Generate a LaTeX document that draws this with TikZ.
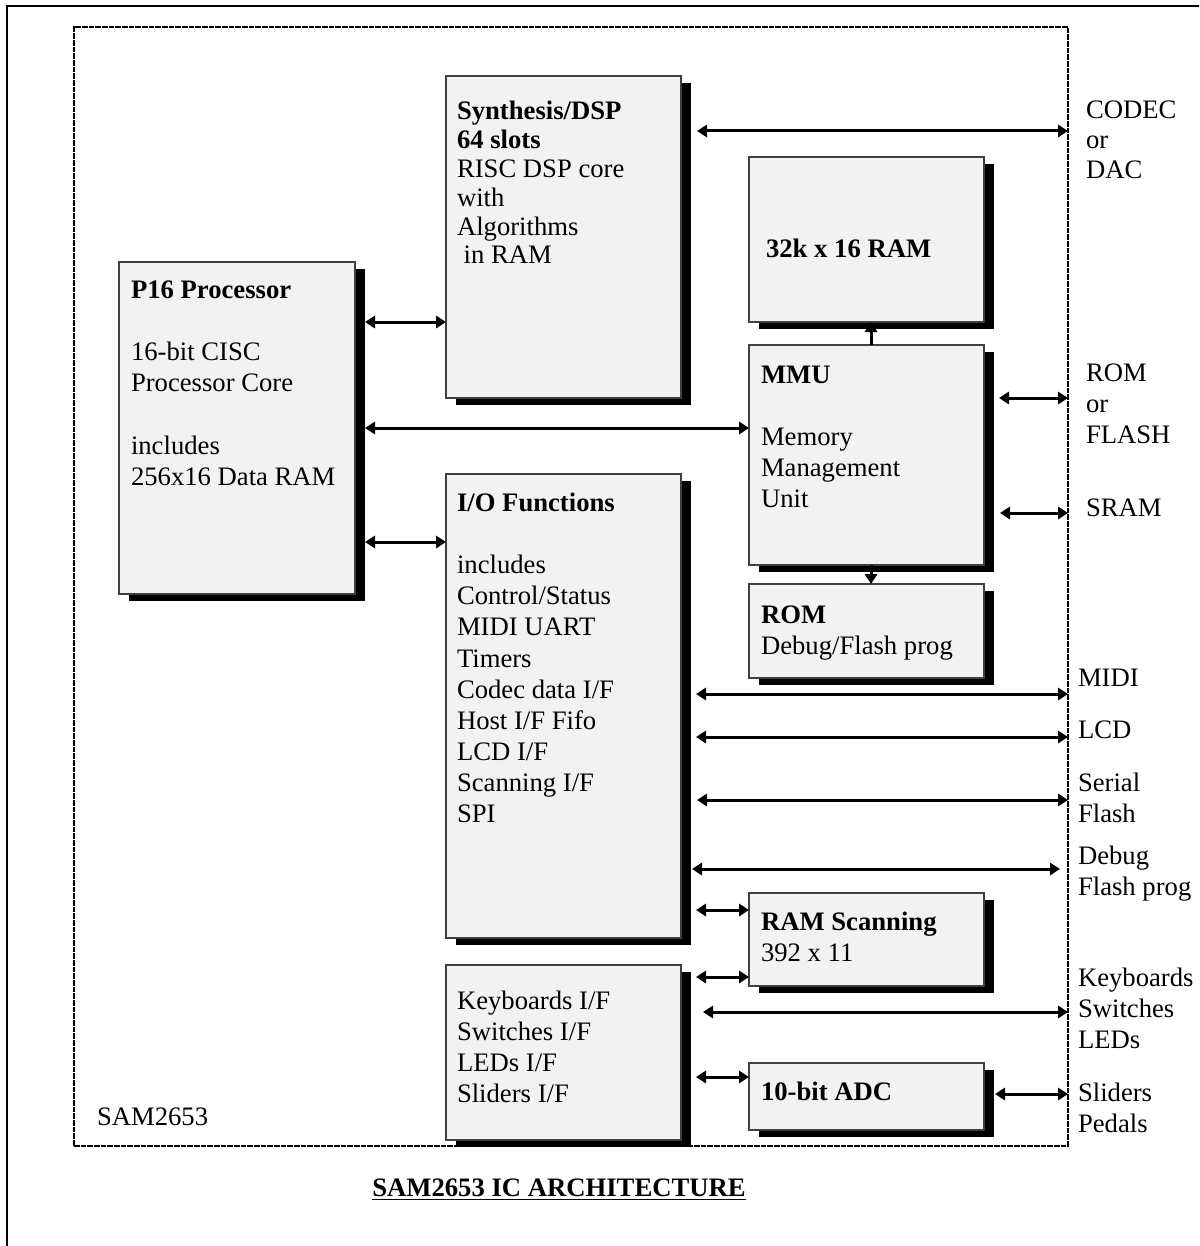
\documentclass[tikz,border=0pt]{standalone}
\usepackage{fontspec}
\setmainfont{Liberation Serif}
\usetikzlibrary{arrows.meta}
\usetikzlibrary{fit}
\usetikzlibrary{calc}

\begin{document}
\begin{tikzpicture}[x=0.45pt,y=-0.45pt,inner sep=0pt,outer sep=0pt,
font=\fontsize{12}{14}\selectfont,
unitblock/.style={draw=black!75,fill=black!5,line width=0.5pt,inner sep=0pt,
  preaction={fill=black,transform canvas={xshift=4.5pt,yshift=-3.15pt}}},
chipframe/.style={draw,dash pattern=on 2.5pt off 0.5pt,line width=0.9pt,inner sep=0pt},
blocktext/.style={anchor=north west,align=left},
pinlabel/.style={anchor=north west,align=left},
bus/.style={{Triangle[length=4.5pt,width=5.5pt]}-{Triangle[length=4.5pt,width=5.5pt]},line width=1.35pt},
feed/.style={-{Triangle[length=4.5pt,width=5.5pt]},line width=1.35pt}]

\clip (0,0) rectangle (1199,1246);
\draw[line width=1.3pt] (7,1260) -- (7,6) -- (1220,6);

% chip boundary
\node[chipframe,fit={(74,27) (1068,1146)}] (chip) {};
\node[anchor=west] (chipname) at (97,1117) {SAM2653};

% blocks
\node[unitblock,fit={(119,262) (355,594)}] (p16) {};
\node[unitblock,fit={(446,76) (681,398)}] (dsp) {};
\node[unitblock,fit={(749,157) (984,322)}] (ram) {};
\node[unitblock,fit={(749,345) (984,565)}] (mmu) {};
\node[unitblock,fit={(749,584) (984,678)}] (rom) {};
\node[unitblock,fit={(446,474) (681,938)}] (io) {};
\node[unitblock,fit={(749,893) (984,986)}] (ramscan) {};
\node[unitblock,fit={(446,965) (681,1140)}] (keys) {};
\node[unitblock,fit={(749,1063) (984,1130)}] (adc) {};

\node[blocktext] (p16txt) at (131,281) {\textbf{P16 Processor}\\[14pt]16-bit CISC\\Processor Core\\[14pt]includes\\256x16 Data RAM};
\node[blocktext,font=\fontsize{12}{13}\selectfont] (dsptxt) at (457,101) {\textbf{Synthesis/DSP}\\\textbf{64 slots}\\RISC DSP core\\with\\Algorithms\\\ in RAM};
\node[blocktext] (ramtxt) at (766,239) {\textbf{32k x 16 RAM}};
\node[blocktext] (mmutxt) at (761,366) {\textbf{MMU}\\[14pt]Memory\\Management\\Unit};
\node[blocktext] (romtxt) at (761,606) {\textbf{ROM}\\Debug/Flash prog};
\node[blocktext] (iotxt) at (457,493) {\textbf{I/O Functions}\\[14pt]includes\\Control/Status\\MIDI UART\\Timers\\Codec data I/F\\Host I/F Fifo\\LCD I/F\\Scanning I/F\\SPI};
\node[blocktext] (ramscantxt) at (761,912) {\textbf{RAM Scanning}\\392 x 11};
\node[blocktext] (keystxt) at (457,991) {Keyboards I/F\\Switches I/F\\LEDs I/F\\Sliders I/F};
\node[blocktext] (adctxt) at (761,1082) {\textbf{10-bit ADC}};

% outside world
\node[pinlabel,font=\fontsize{12}{13.5}\selectfont] (codec) at (1086,101) {CODEC\\or\\DAC};
\node[pinlabel] (flash) at (1086,364) {ROM\\or\\FLASH};
\node[pinlabel] (sram) at (1086,499) {SRAM};
\node[pinlabel] (midi) at (1078,669) {MIDI};
\node[pinlabel] (lcd) at (1078,721) {LCD};
\node[pinlabel] (serial) at (1078,773) {Serial\\Flash};
\node[pinlabel] (debug) at (1078,846) {Debug\\Flash prog};
\node[pinlabel] (panel) at (1078,968) {Keyboards\\Switches\\LEDs};
\node[pinlabel] (sliders) at (1078,1083) {Sliders\\Pedals};

% processor buses
\draw[bus] ($(p16.east |- 0,322)+(10,0)$) -- (dsp.west |- 0,322);
\draw[bus] ($(p16.east |- 0,428)+(10,0)$) -- (mmu.west |- 0,428);
\draw[bus] ($(p16.east |- 0,542)+(10,0)$) -- (io.west |- 0,542);

% memory
\draw[feed] (mmu.north -| 871,0) -- (ram.south -| 871,0);
\draw[feed] (mmu.south -| 871,0) -- (rom.north -| 871,0);

% pins
\draw[bus] ($(dsp.east |- 0,131)+(16,0)$) -- (chip.east |- 0,131);
\draw[bus] ($(mmu.east |- 0,398)+(15,0)$) -- (chip.east |- 0,398);
\draw[bus] ($(mmu.east |- 0,513)+(16,0)$) -- (chip.east |- 0,513);
\draw[bus] ($(io.east |- 0,694)+(15,0)$) -- (chip.east |- 0,694);
\draw[bus] ($(io.east |- 0,737)+(15,0)$) -- (chip.east |- 0,737);
\draw[bus] ($(io.east |- 0,800)+(16,0)$) -- (chip.east |- 0,800);
\draw[bus] ($(io.east |- 0,869)+(11,0)$) -- ($(chip.east |- 0,869)+(-8,0)$);
\draw[bus] ($(io.east |- 0,910)+(15,0)$) -- (ramscan.west |- 0,910);
\draw[bus] ($(keys.east |- 0,977)+(15,0)$) -- (ramscan.west |- 0,977);
\draw[bus] ($(keys.east |- 0,1012)+(22,0)$) -- (chip.east |- 0,1012);
\draw[bus] ($(keys.east |- 0,1077)+(15,0)$) -- (adc.west |- 0,1077);
\draw[bus] ($(adc.east |- 0,1094)+(11,0)$) -- (chip.east |- 0,1094);

\node[font=\fontsize{12}{14}\selectfont\bfseries] (title) at (559,1190) {\underline{SAM2653 IC ARCHITECTURE}};
\end{tikzpicture}
\end{document}
